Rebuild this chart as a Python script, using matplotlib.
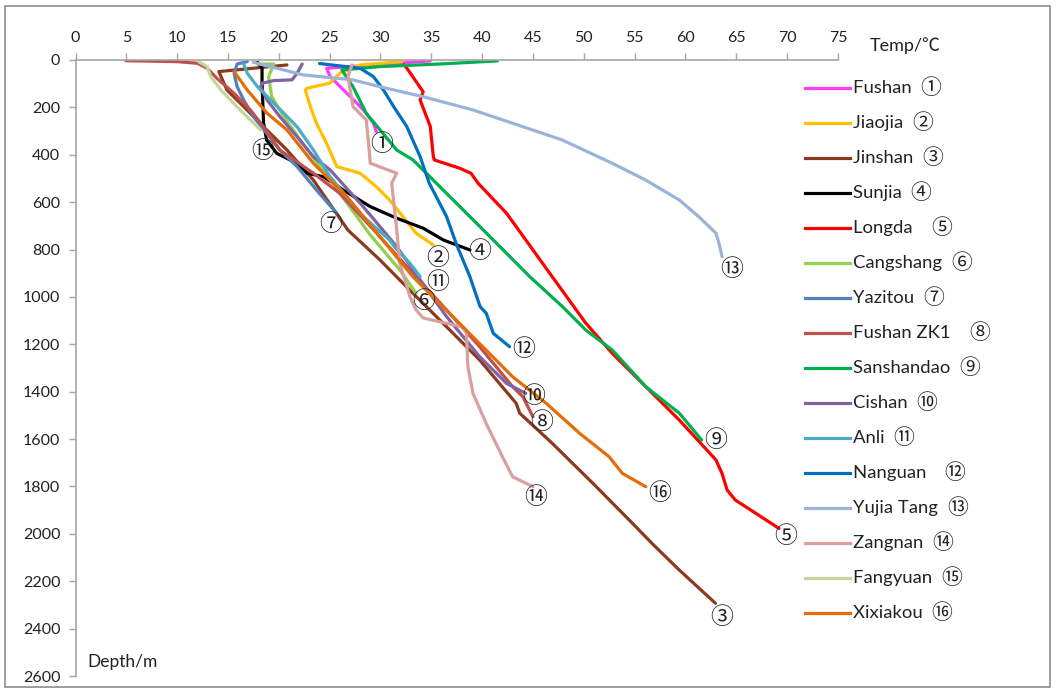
import matplotlib.pyplot as plt
from matplotlib.lines import Line2D
from matplotlib.patches import Rectangle

# temperature (degC) / depth (m) logs for each borehole
fushan_t = [34.9, 24.7, 25.05, 25.7, 26.7, 27.7, 28.6, 29.3, 29.6]
fushan_d = [4, 35, 70, 98, 141, 183, 225, 267, 303]

jiaojia_t = [32.1, 28.0, 26.0, 25.0, 22.8, 22.6, 23.1, 23.7, 24.7, 25.7, 28.0, 29.6, 30.9, 32.2, 33.5, 35.2]
jiaojia_d = [7, 21, 56, 98, 119, 127, 197, 267, 352, 450, 478, 535, 591, 661, 731, 781]

jinshan_t = [20.8, 14.1, 14.9, 16.55, 18.5, 20.8, 23.4, 26.8, 29.95, 33.2, 36.5, 39.75, 43.35, 43.7, 46.9, 50.9, 54.8, 56.7, 59.4, 62.95]
jinshan_d = [21, 49, 127, 197, 282, 380, 507, 718, 844, 985, 1126, 1266, 1449, 1491, 1618, 1787, 1956, 2040, 2153, 2293]

sunjia_t = [17.9, 18.35, 18.35, 18.5, 18.8, 19.8, 21.1, 21.8, 22.8, 24.4, 26.35, 29.0, 31.6, 34.2, 36.2, 38.8]
sunjia_d = [10, 35, 98, 267, 338, 394, 422, 436, 478, 493, 549, 619, 668, 710, 760, 802]

longda_t = [32.3, 32.6, 34.2, 33.9, 34.9, 35.2, 35.3, 37.8, 38.9, 39.6, 42.4, 44.3, 46.9, 50.2, 52.8, 56.1,
            59.4, 63.0, 63.3, 63.6, 64.1, 64.9, 65.9, 69.2]
longda_d = [20, 35, 134, 169, 281, 408, 422, 457, 478, 520, 647, 760, 915, 1111, 1238, 1379,
            1520, 1688, 1717, 1745, 1815, 1857, 1885, 1977]

cangshang_t = [17.9, 19.5, 19.2, 19.0, 19.3, 20.5, 22.1, 25.05, 29.0, 31.9, 33.5]
cangshang_d = [17, 17, 49, 70, 155, 239, 338, 507, 739, 886, 985]

yazitou_t = [16.9, 15.9, 15.6, 15.9, 16.55, 17.5, 18.8, 20.1, 21.8, 23.7, 25.7]
yazitou_d = [7, 17, 56, 113, 169, 239, 309, 380, 450, 549, 647]

fushanzk1_t = [4.95, 10.0, 12.0, 12.95, 13.9, 15.6, 17.2, 18.5, 20.1, 23.4, 26.0, 29.95, 33.5, 36.5, 39.75, 43.0, 44.0, 45.0]
fushanzk1_d = [3, 7, 14, 35, 77, 141, 211, 282, 380, 478, 563, 746, 915, 1055, 1210, 1379, 1421, 1506]

sanshandao_t = [41.5, 35.8, 29.95, 26.2, 27.3, 28.6, 29.95, 31.6, 33.2, 36.5, 39.8, 44.7, 47.9, 50.2, 52.8, 56.1, 59.4, 61.6]
sanshandao_d = [4, 17, 28, 42, 113, 225, 295, 380, 422, 563, 704, 915, 1041, 1140, 1224, 1379, 1491, 1604]

cishan_t = [22.3, 21.8, 21.3, 19.5, 18.35, 18.2, 18.85, 20.1, 21.8, 23.4, 25.05, 28.3, 31.6, 34.85, 36.5, 39.75, 42.4, 44.3]
cishan_d = [17, 56, 84, 87, 98, 113, 169, 239, 324, 408, 464, 619, 788, 985, 1083, 1252, 1365, 1407]

anli_t = [16.55, 16.9, 17.9, 19.2, 20.5, 21.8, 23.4, 25.05, 28.3, 30.9, 31.4, 32.9, 33.3, 33.9]
anli_d = [17, 56, 113, 169, 225, 282, 380, 493, 661, 760, 790, 858, 880, 915]

nanguan_t = [24.0, 28.0, 29.3, 30.3, 31.3, 32.6, 33.9, 34.8, 36.5, 37.5, 38.8, 39.8, 40.4, 41.1, 42.7]
nanguan_d = [15, 35, 70, 127, 197, 282, 408, 520, 661, 781, 915, 1041, 1069, 1154, 1210]

yujiatang_t = [17.5, 22.4, 27.3, 29.95, 34.2, 39.1, 43.0, 47.9, 52.8, 56.1, 59.4, 61.3, 63.0, 63.3, 63.6]
yujiatang_d = [10, 63, 84, 113, 155, 211, 267, 338, 436, 507, 591, 661, 731, 774, 830]

zangnan_t = [27.2, 26.8, 27.3, 28.6, 28.8, 29.0, 31.6, 31.1, 31.25, 31.6, 31.9, 32.9, 33.5, 34.2, 38.1, 38.45,
             38.6, 39.1, 40.4, 42.0, 43.0, 45.0]
zangnan_d = [21, 70, 197, 253, 338, 436, 478, 520, 577, 718, 858, 999, 1055, 1089, 1127, 1154,
             1295, 1407, 1534, 1675, 1759, 1801]

fangyuan_t = [12.1, 12.95, 13.3, 14.3, 16.2, 18.2]
fangyuan_d = [7, 28, 70, 127, 211, 295]

xixiakou_t = [15.6, 16.9, 18.85, 20.8, 23.4, 26.7, 29.95, 33.2, 38.1, 43.0, 46.3, 49.6, 52.5, 53.8, 56.1]
xixiakou_d = [49, 127, 225, 295, 436, 577, 746, 915, 1126, 1337, 1449, 1576, 1675, 1745, 1801]

wells = ['Fushan ', 'Jiaojia ', 'Jinshan ', 'Sunjia ', 'Longda   ', 'Cangshang ', 'Yazitou ', 'Fushan ZK1   ',
         'Sanshandao ', 'Cishan ', 'Anli ', 'Nanguan   ', 'Yujia Tang ', 'Zangnan ', 'Fangyuan ', 'Xixiakou ']
marks = ['①', '②', '③', '④', '⑤', '⑥', '⑦', '⑧', '⑨', '⑩', '⑪', '⑫', '⑬', '⑭', '⑮', '⑯']

temps = [fushan_t, jiaojia_t, jinshan_t, sunjia_t, longda_t, cangshang_t, yazitou_t, fushanzk1_t,
         sanshandao_t, cishan_t, anli_t, nanguan_t, yujiatang_t, zangnan_t, fangyuan_t, xixiakou_t]
depths = [fushan_d, jiaojia_d, jinshan_d, sunjia_d, longda_d, cangshang_d, yazitou_d, fushanzk1_d,
          sanshandao_d, cishan_d, anli_d, nanguan_d, yujiatang_d, zangnan_d, fangyuan_d, xixiakou_d]

# where the circled well numbers sit (temp, depth)
mark_pos = [(30.1, 355), (35.6, 836), (63.6, 2351), (39.8, 810), (69.9, 2013), (34.2, 1021),
            (25.1, 696), (45.9, 1528), (63.0, 1604), (45.1, 1422), (35.6, 941), (44.1, 1224),
            (64.5, 886), (45.3, 1845), (18.4, 388), (57.5, 1828)]

colors = ['#FF3CFF', '#FFC000', '#8B3A1E', '#000000', '#FF0000', '#92D050', '#4F81BD', '#C0504D',
          '#00B050', '#8064A2', '#4BACC6', '#0070C0', '#9AB3D8', '#D9A09E', '#C4D79B', '#E46C0A']

font_list = ['Lato', 'Noto Sans CJK SC', 'DejaVu Sans']
circ_font = ['Noto Sans CJK SC', 'DejaVu Sans']
plt.rcParams['font.family'] = font_list
text_col = '#222222'

fig = plt.figure(figsize=(10.56, 6.91), dpi=100)
ax = fig.add_axes([0.0715, 0.0217, 0.722, 0.8915])

for t, d, c in zip(temps, depths, colors):
    ax.plot(t, d, color=c, lw=2.3, solid_capstyle='round', solid_joinstyle='round')

for m, (mt, md) in zip(marks, mark_pos):
    ax.text(mt, md, m, ha='center', va='center', fontsize=16.5, family=circ_font, color=text_col)

ax.set_xlim(0, 75)
ax.set_ylim(2600, 0)
ax.set_xticks(range(0, 80, 5))
ax.set_yticks(range(0, 2800, 200))
ax.xaxis.tick_top()
ax.spines['right'].set_visible(False)
ax.spines['bottom'].set_visible(False)
for s in ['left', 'top']:
    ax.spines[s].set_color('#A6A6A6')
    ax.spines[s].set_linewidth(1.2)
ax.tick_params(axis='both', which='major', direction='out', length=5, width=1.0,
               color='#A6A6A6', labelsize=11.5, labelcolor=text_col)
ax.tick_params(axis='x', pad=6)
ax.tick_params(axis='y', pad=6)

fig.text(870 / 1056, 0.934, 'Temp/℃', fontsize=13, color=text_col, va='center', ha='left')
ax.text(1.2, 2540, 'Depth/m', fontsize=12.5, color=text_col, va='center', ha='left')

# legend: sample line, well name, then its circled number
W, H = fig.get_size_inches() * fig.dpi
for i, (name, m, c) in enumerate(zip(wells, marks, colors)):
    yf = 1 - (88 + 35 * i) / H
    fig.add_artist(Line2D([805 / W, 850 / W], [yf, yf], color=c, lw=2.3, transform=fig.transFigure))
    nt = fig.text(853 / W, yf, name, fontsize=13.3, color=text_col, va='center', ha='left')
    ax.annotate(m, xy=(1, 0.5), xycoords=nt, xytext=(3, 0), textcoords='offset points',
                ha='left', va='center', fontsize=15, family=circ_font, color=text_col,
                annotation_clip=False)

# chart-area frame
fig.patches.append(Rectangle((0.005, 0.006), 0.989, 0.986, transform=fig.transFigure,
                             fill=False, edgecolor='#8C8C8C', lw=1.2))

plt.savefig('out.png', dpi=100)
